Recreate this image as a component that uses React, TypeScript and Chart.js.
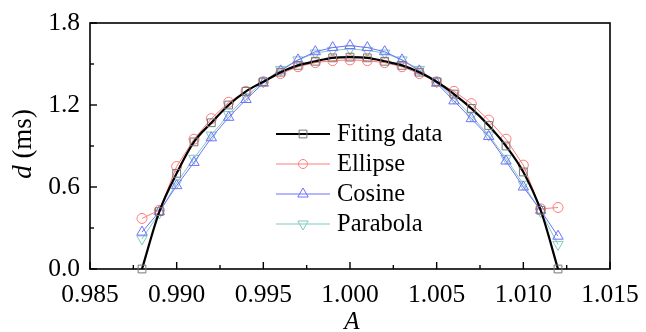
import React, { useEffect, useRef } from 'react';
import { Chart, registerables } from 'chart.js';

Chart.register(...registerables);

const aValues = [0.988, 0.989, 0.99, 0.991, 0.992, 0.993, 0.994, 0.995, 0.996, 0.997, 0.998, 0.999, 1.0,
  1.001, 1.002, 1.003, 1.004, 1.005, 1.006, 1.007, 1.008, 1.009, 1.01, 1.011, 1.012];
const fittingData = [0.0, 0.42, 0.70, 0.93, 1.07, 1.20, 1.30, 1.37, 1.44, 1.49, 1.52, 1.545, 1.55,
  1.545, 1.52, 1.49, 1.44, 1.37, 1.28, 1.175, 1.05, 0.90, 0.71, 0.43, 0.0];
const ellipseData = [0.37, 0.43, 0.75, 0.95, 1.10, 1.22, 1.30, 1.37, 1.43, 1.48, 1.51, 1.525, 1.53,
  1.525, 1.51, 1.48, 1.43, 1.37, 1.30, 1.21, 1.09, 0.95, 0.76, 0.44, 0.45];
const cosineData = [0.27, 0.42, 0.61, 0.78, 0.96, 1.11, 1.24, 1.36, 1.45, 1.53, 1.59, 1.62, 1.635,
  1.62, 1.59, 1.53, 1.45, 1.36, 1.23, 1.10, 0.97, 0.79, 0.60, 0.43, 0.24];
const parabolaData = [0.22, 0.41, 0.63, 0.81, 0.98, 1.13, 1.26, 1.37, 1.46, 1.53, 1.58, 1.60, 1.61,
  1.60, 1.58, 1.53, 1.46, 1.37, 1.25, 1.12, 0.98, 0.81, 0.62, 0.42, 0.18];
const xTickValues = [0.985, 0.99, 0.995, 1.0, 1.005, 1.01, 1.015];
const yTickValues = [0.0, 0.6, 1.2, 1.8];
const seriesNames = ['Fiting data', 'Ellipse', 'Cosine', 'Parabola'];

const FONT = "'Liberation Serif', 'Times New Roman', serif";
const COLORS = {
  fit: '#000000',
  fitPoint: '#777777',
  ellipse: '#ff7a7a',
  cosine: '#6f6fff',
  parabola: '#7fc9c0',
};

function toPoints(ys: number[]) {
  return aValues.map((a, i) => ({ x: a, y: ys[i] }));
}

function drawMarker(ctx: CanvasRenderingContext2D, style: string, x: number, y: number, r: number, color: string) {
  ctx.save();
  ctx.strokeStyle = color;
  ctx.lineWidth = 1;
  ctx.beginPath();
  if (style === 'rect') {
    const s = r * Math.SQRT1_2;
    ctx.rect(x - s, y - s, 2 * s, 2 * s);
  } else if (style === 'circle') {
    ctx.arc(x, y, r, 0, Math.PI * 2);
  } else if (style === 'triUp' || style === 'triDown') {
    const dir = style === 'triUp' ? 1 : -1;
    const h = r * 1.5;
    const half = (r * Math.sqrt(3)) / 2;
    ctx.moveTo(x, y - dir * r);
    ctx.lineTo(x - half, y + dir * (h - r));
    ctx.lineTo(x + half, y + dir * (h - r));
    ctx.closePath();
  }
  ctx.stroke();
  ctx.restore();
}

const framePlugin = {
  id: 'frameTicks',
  beforeDatasetsDraw(chart: any) {
    const { ctx, chartArea, scales } = chart;
    const { left, right, top, bottom } = chartArea;
    const x = scales.x;
    const y = scales.y;
    ctx.save();
    ctx.strokeStyle = '#000';
    ctx.lineWidth = 1.6;
    ctx.strokeRect(left, top, right - left, bottom - top);
    ctx.lineWidth = 1.4;
    const line = (x1: number, y1: number, x2: number, y2: number) => {
      ctx.beginPath();
      ctx.moveTo(x1, y1);
      ctx.lineTo(x2, y2);
      ctx.stroke();
    };
    xTickValues.forEach((v, i) => {
      const px = x.getPixelForValue(v);
      line(px, bottom, px, bottom - 7);
      if (i < xTickValues.length - 1) {
        const pm = x.getPixelForValue((v + xTickValues[i + 1]) / 2);
        line(pm, bottom, pm, bottom - 4);
      }
    });
    yTickValues.forEach((v, i) => {
      const py = y.getPixelForValue(v);
      line(left, py, left + 7, py);
      if (i < yTickValues.length - 1) {
        const pm = y.getPixelForValue((v + yTickValues[i + 1]) / 2);
        line(left, pm, left + 4, pm);
      }
    });
    ctx.restore();
  },
  afterDraw(chart: any) {
    const { ctx, chartArea } = chart;
    const { left, right, top, bottom } = chartArea;
    ctx.save();
    ctx.fillStyle = '#000';
    ctx.translate(31, (top + bottom) / 2 - 2);
    ctx.rotate(-Math.PI / 2);
    ctx.textBaseline = 'alphabetic';
    ctx.font = `italic 27px ${FONT}`;
    const dW = ctx.measureText('d').width;
    ctx.font = `27px ${FONT}`;
    const restW = ctx.measureText(' (ms)').width;
    const total = dW + restW;
    ctx.font = `italic 27px ${FONT}`;
    ctx.textAlign = 'left';
    ctx.fillText('d', -total / 2, 0);
    ctx.font = `27px ${FONT}`;
    ctx.fillText(' (ms)', -total / 2 + dW, 0);
    ctx.restore();

    ctx.save();
    ctx.fillStyle = '#000';
    ctx.font = `italic 25px ${FONT}`;
    ctx.textAlign = 'center';
    ctx.textBaseline = 'alphabetic';
    ctx.fillText('A', (left + right) / 2 + 2, 329);
    ctx.restore();

    const entries = [
      { name: seriesNames[0], color: COLORS.fit, mColor: COLORS.fitPoint, marker: 'rect', r: 5.5, lw: 2 },
      { name: seriesNames[1], color: COLORS.ellipse, mColor: COLORS.ellipse, marker: 'circle', r: 4.5, lw: 1 },
      { name: seriesNames[2], color: COLORS.cosine, mColor: COLORS.cosine, marker: 'triUp', r: 6, lw: 1 },
      { name: seriesNames[3], color: COLORS.parabola, mColor: COLORS.parabola, marker: 'triDown', r: 6, lw: 1 },
    ];
    ctx.save();
    entries.forEach((e, i) => {
      const ly = 134 + i * 30;
      ctx.strokeStyle = e.color;
      ctx.lineWidth = e.lw;
      ctx.beginPath();
      ctx.moveTo(276, ly);
      ctx.lineTo(330, ly);
      ctx.stroke();
      drawMarker(ctx, e.marker, 303, ly, e.r, e.mColor);
      ctx.fillStyle = '#000';
      ctx.font = `24.5px ${FONT}`;
      ctx.textAlign = 'left';
      ctx.textBaseline = 'middle';
      ctx.fillText(e.name, 337, ly + 1);
    });
    ctx.restore();
  },
};

export default function App() {
  const canvasRef = useRef<HTMLCanvasElement | null>(null);

  useEffect(() => {
    document.body.style.margin = '0';
    const canvas = canvasRef.current;
    if (!canvas) return;
    const pointBase = {
      pointBorderWidth: 1,
      pointBackgroundColor: 'rgba(255,255,255,0)',
      clip: false as const,
    };
    const chart = new Chart(canvas, {
      type: 'line',
      data: {
        datasets: [
          {
            label: seriesNames[0],
            data: toPoints(fittingData),
            borderColor: COLORS.fit,
            borderWidth: 2.2,
            pointStyle: 'rect',
            pointRadius: 5.5,
            pointBorderColor: COLORS.fitPoint,
            cubicInterpolationMode: 'monotone',
            ...pointBase,
          },
          {
            label: seriesNames[1],
            data: toPoints(ellipseData),
            borderColor: COLORS.ellipse,
            borderWidth: 1,
            pointStyle: 'circle',
            pointRadius: 5,
            pointBorderColor: COLORS.ellipse,
            ...pointBase,
          },
          {
            label: seriesNames[2],
            data: toPoints(cosineData),
            borderColor: COLORS.cosine,
            borderWidth: 1,
            pointStyle: 'triangle',
            pointRadius: 6,
            pointBorderColor: COLORS.cosine,
            ...pointBase,
          },
          {
            label: seriesNames[3],
            data: toPoints(parabolaData),
            borderColor: COLORS.parabola,
            borderWidth: 1,
            pointStyle: 'triangle',
            pointRotation: 180,
            pointRadius: 6,
            pointBorderColor: COLORS.parabola,
            ...pointBase,
          },
        ],
      },
      options: {
        animation: false,
        responsive: true,
        maintainAspectRatio: false,
        layout: { padding: { left: 0, right: 36, top: 23, bottom: 0 } },
        plugins: {
          legend: { display: false },
          tooltip: { enabled: false },
        },
        scales: {
          x: {
            type: 'linear',
            min: 0.985,
            max: 1.015,
            grid: { display: false, drawTicks: false },
            border: { display: false },
            afterBuildTicks: (scale: any) => {
              scale.ticks = xTickValues.map((v) => ({ value: v }));
            },
            afterFit: (scale: any) => {
              scale.height = 63;
              scale.paddingLeft = 0;
              scale.paddingRight = 0;
            },
            ticks: {
              padding: 11,
              color: '#000',
              maxRotation: 0,
              autoSkip: false,
              font: { family: FONT, size: 25.5 },
              callback: (v: any) => Number(v).toFixed(3),
            },
          },
          y: {
            type: 'linear',
            min: 0,
            max: 1.8,
            grid: { display: false, drawTicks: false },
            border: { display: false },
            afterBuildTicks: (scale: any) => {
              scale.ticks = yTickValues.map((v) => ({ value: v }));
            },
            afterFit: (scale: any) => {
              scale.width = 90;
              scale.paddingTop = 0;
              scale.paddingBottom = 0;
            },
            ticks: {
              padding: 10,
              color: '#000',
              autoSkip: false,
              font: { family: FONT, size: 25.5 },
              callback: (v: any) => Number(v).toFixed(1),
            },
          },
        },
      },
      plugins: [framePlugin],
    });
    return () => chart.destroy();
  }, []);

  return (
    <div style={{ width: 646, height: 332, position: 'relative', background: '#fff' }}>
      <canvas ref={canvasRef} />
    </div>
  );
}
